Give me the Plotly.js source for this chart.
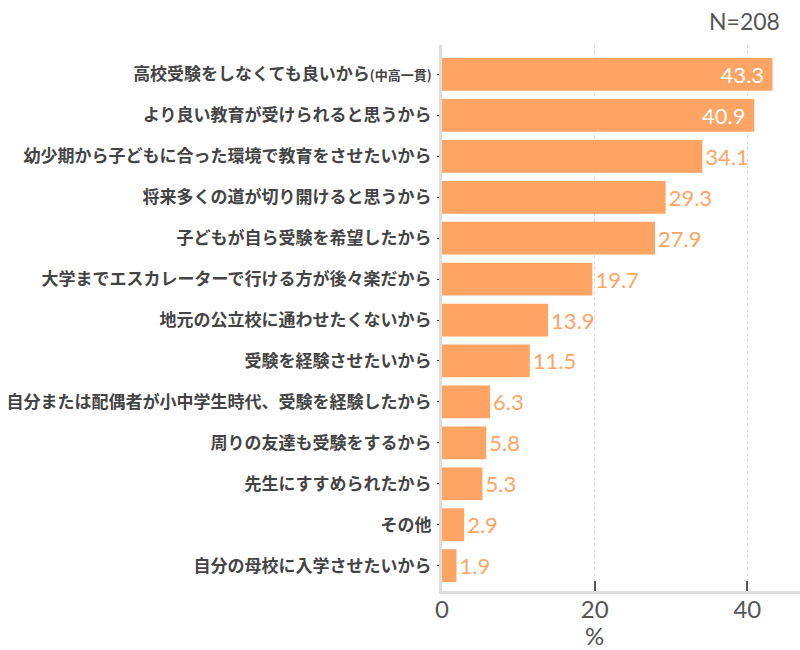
<!DOCTYPE html>
<html>
<head>
<meta charset="utf-8">
<script src="https://cdn.plot.ly/plotly-3.0.1.min.js"></script>
<style>
  html, body { margin: 0; padding: 0; background: #fff; }
  #chart { width: 800px; height: 650px; }
</style>
</head>
<body>
<div id="chart"></div>
<script>
// ---- data ----
const categories = [
  '高校受験をしなくても良いから(中高一貫)',
  'より良い教育が受けられると思うから',
  '幼少期から子どもに合った環境で教育をさせたいから',
  '将来多くの道が切り開けると思うから',
  '子どもが自ら受験を希望したから',
  '大学までエスカレーターで行ける方が後々楽だから',
  '地元の公立校に通わせたくないから',
  '受験を経験させたいから',
  '自分または配偶者が小中学生時代、受験を経験したから',
  '周りの友達も受験をするから',
  '先生にすすめられたから',
  'その他',
  '自分の母校に入学させたいから'
];
const values = [43.3, 40.9, 34.1, 29.3, 27.9, 19.7, 13.9, 11.5, 6.3, 5.8, 5.3, 2.9, 1.9];
const xTickVals = [0, 20, 40];
const sampleNote = 'N=208';
const axisTitle = '%';

// ---- styling ----
const BAR = '#FFA463';
const NUMFONT = 'Lato, "Noto Sans", sans-serif';
const ticktext = categories.map(c => c.replace('(中高一貫)', '<span style="font-size:13px">(中高一貫)</span>'));
const textpos = values.map(v => v > 40 ? 'inside' : 'outside');

const trace = {
  type: 'bar',
  orientation: 'h',
  y: categories,
  x: values,
  marker: { color: BAR },
  width: 0.8,
  text: values.map(v => v > 40 ? v.toFixed(1) + ' ' : v.toFixed(1)),
  textposition: textpos,
  insidetextanchor: 'end',
  constraintext: 'none',
  cliponaxis: false,
  insidetextfont: { family: NUMFONT, size: 22, color: '#ffffff', weight: 400 },
  outsidetextfont: { family: NUMFONT, size: 22, color: BAR, weight: 400 },
  hoverinfo: 'skip'
};

const layout = {
  width: 800, height: 650,
  margin: { l: 442, r: 0, t: 45, b: 59 },
  paper_bgcolor: '#fff', plot_bgcolor: '#fff',
  showlegend: false,
  font: { family: '"Noto Sans CJK JP", sans-serif', color: '#444' },
  xaxis: {
    range: [0, 46.9],
    tickvals: xTickVals,
    ticktext: xTickVals.map(String),
    ticks: 'inside', ticklen: 10, tickwidth: 2, tickcolor: '#555',
    tickfont: { family: NUMFONT, size: 24, color: '#555', weight: 400 },
    ticklabelstandoff: -5,
    showgrid: true, gridcolor: '#dddddd', griddash: 'dot', gridwidth: 1,
    zeroline: false,
    showline: true, linecolor: '#dddddd', linewidth: 3,
    fixedrange: true
  },
  yaxis: {
    type: 'category',
    autorange: false,
    range: [12.62, -0.72],
    tickvals: categories,
    ticktext: ticktext,
    ticks: 'outside', ticklen: 2, tickwidth: 1, tickcolor: '#333',
    tickfont: { family: '"Noto Sans CJK JP", sans-serif', size: 17, color: '#444', weight: 700 },
    ticklabelstandoff: 2,
    showgrid: false, zeroline: false,
    showline: true, linecolor: '#dddddd', linewidth: 3,
    automargin: false,
    fixedrange: true
  },
  annotations: [
    {
      text: sampleNote, xref: 'paper', yref: 'paper',
      x: 0.95, y: 1, xanchor: 'right', yanchor: 'bottom', yshift: 8,
      showarrow: false,
      font: { family: NUMFONT, size: 23, color: '#555', weight: 400 }
    },
    {
      text: axisTitle, xref: 'x', yref: 'paper',
      x: 20, y: 0, xanchor: 'center', yanchor: 'middle', yshift: -44,
      showarrow: false,
      font: { family: NUMFONT, size: 24, color: '#555', weight: 400 }
    }
  ],
  bargap: 0.2
};

Plotly.newPlot('chart', [trace], layout, { displayModeBar: false, staticPlot: true });
</script>
</body>
</html>
